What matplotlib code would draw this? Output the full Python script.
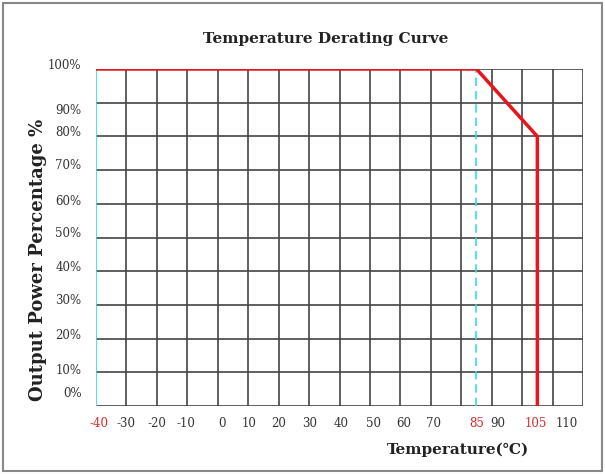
import matplotlib.pyplot as plt
import matplotlib.transforms as mtransforms
from matplotlib.patches import Rectangle

# derating curve
temp = [-40, 85, 105, 105]
power = [100, 100, 80, 0]

# grid
grid_x = list(range(-40, 121, 10))
grid_y = list(range(0, 101, 10))

# tick labels (as they sit in the picture)
xtick_labels = ['-40', '-30', '-20', '-10', '0', '10', '20', '30', '40', '50', '60', '70', '85', '90', '105', '110']
xtick_pos = [-39, -30, -20, -10.5, 1.4, 10.3, 20, 30.2, 40.4, 51.1, 61, 70.8, 85, 92.1, 104.6, 114.8]
xtick_red = ['-40', '85', '105']
ytick_labels = ['0%', '10%', '20%', '30%', '40%', '50%', '60%', '70%', '80%', '90%', '100%']
ytick_pos = [3.6, 10.6, 20.9, 31.2, 41, 51.2, 60.6, 71.5, 81.2, 87.8, 100.9]

fig = plt.figure(figsize=(6.05, 4.74), dpi=100)
ax = fig.add_axes([96 / 605, 1 - 406 / 474, (583 - 96) / 605, (406 - 69) / 474])
ax.set_xlim(-40, 120)
ax.set_ylim(0, 100)

for x in grid_x[1:]:
    ax.plot([x, x], [0, 100], color='#444444', lw=1.2, zorder=1)
for y in grid_y:
    ax.plot([-40, 120], [y, y], color='#444444', lw=1.2, zorder=1)

# left edge: cyan line with black dashes beside it
ax.plot([-40, -40], [0, 100], color='#33dede', lw=1.2, zorder=3)
off = mtransforms.offset_copy(ax.transData, fig=fig, x=-1, y=0, units='dots')
ax.plot([-40, -40], [0, 100], color='#222222', lw=1.2, ls=(0, (4, 6)), zorder=2, transform=off)
ax.plot([85, 85], [0, 100], color='#33dede', lw=1.2, ls=(0, (5, 3)), zorder=3)

ax.plot(temp, power, color='#e8161c', lw=2.5, zorder=5, solid_joinstyle='miter')

for s in ax.spines.values():
    s.set_visible(False)
ax.set_xticks([])
ax.set_yticks([])

for lab, xp in zip(xtick_labels, xtick_pos):
    c = '#d42a2a' if lab in xtick_red else '#333333'
    ax.annotate(lab, (xp, 0), xytext=(0, -12.5), textcoords='offset points', ha='center', va='center',
                fontsize=8.5, family='DejaVu Serif', color=c, annotation_clip=False)
for lab, yp in zip(ytick_labels, ytick_pos):
    ax.annotate(lab, (-40, yp), xytext=(-10.5, 0), textcoords='offset points', ha='right', va='center',
                fontsize=8.5, family='DejaVu Serif', color='#333333', annotation_clip=False)

fig.text(326 / 605, 1 - 39 / 474, 'Temperature Derating Curve', ha='center', va='center',
         fontsize=11, fontweight='bold', family='DejaVu Serif', color='#222222')
fig.text(38 / 605, 1 - 260 / 474, 'Output Power Percentage %', ha='center', va='center', rotation=90,
         fontsize=13, fontweight='bold', family='DejaVu Serif', color='#222222')
fig.text(458 / 605, 1 - 450 / 474, 'Temperature(℃)', ha='center', va='center',
         fontsize=11, fontweight='bold', family='DejaVu Serif', color='#222222')

fig.patches.append(Rectangle((3 / 605, 3 / 474), 599 / 605, 468 / 474, transform=fig.transFigure,
                             fill=False, edgecolor='#888888', lw=1.5))

fig.savefig('out.png', dpi=100)
